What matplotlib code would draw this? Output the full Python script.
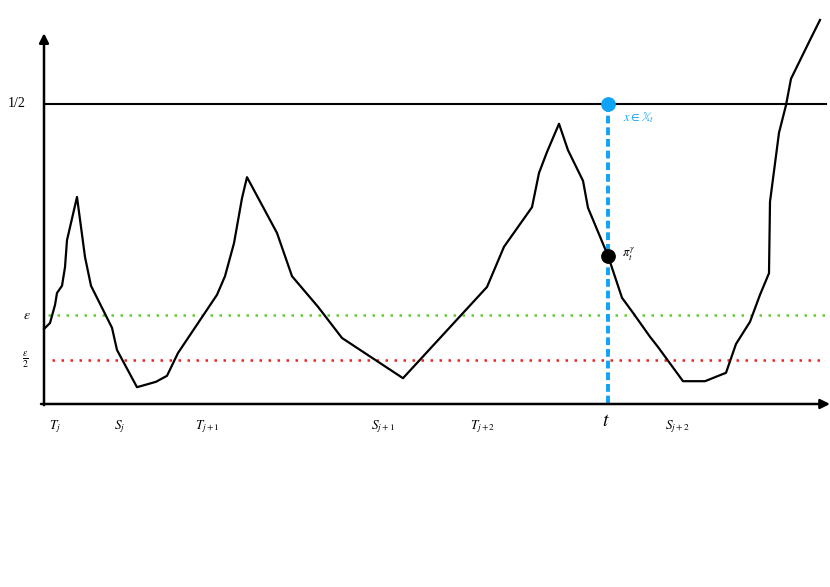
import numpy as np
import matplotlib.pyplot as plt

plt.rcParams["font.family"] = ["Liberation Serif", "DejaVu Serif"]
plt.rcParams["mathtext.fontset"] = "stix"

# sample path (time, value)
path_t = [0.00, 0.06, 0.11, 0.13, 0.18, 0.21, 0.23, 0.33, 0.41, 0.47, 0.68, 0.73,
          0.93, 1.12, 1.23, 1.34, 1.73, 1.81, 1.90, 1.98, 2.03, 2.33, 2.48, 2.74,
          2.98, 3.59, 4.43, 4.60, 4.88, 4.95, 5.03, 5.15, 5.24, 5.39, 5.44, 5.64,
          5.78, 5.89, 6.06, 6.14, 6.39, 6.61, 6.82, 6.92, 7.06, 7.16, 7.25, 7.26,
          7.35, 7.42, 7.47, 7.67, 7.76]
path_y = [0.125, 0.135, 0.165, 0.185, 0.197, 0.228, 0.273, 0.345, 0.245, 0.197, 0.127, 0.090,
          0.028, 0.037, 0.047, 0.085, 0.182, 0.213, 0.268, 0.343, 0.378, 0.285, 0.213, 0.162,
          0.110, 0.043, 0.195, 0.262, 0.328, 0.385, 0.420, 0.467, 0.423, 0.372, 0.327, 0.247,
          0.177, 0.152, 0.112, 0.095, 0.038, 0.038, 0.052, 0.100, 0.137, 0.182, 0.218, 0.337,
          0.452, 0.498, 0.542, 0.610, 0.640]

half = 0.5
eps = 0.148
t_now = 5.64
pi_now = np.interp(t_now, path_t, path_y)

time_labels = [r"$T_j$", r"$S_j$", r"$T_{j+1}$", r"$S_{j+1}$", r"$T_{j+2}$", r"$S_{j+2}$"]
time_pos = [0.11, 0.76, 1.63, 3.39, 4.39, 6.33]

BLUE = "#0fa3f7"

fig = plt.figure(figsize=(8.3, 5.87), dpi=100)
ax = fig.add_axes([0, 0, 1, 1])
ax.set_xlim(-0.44, 7.86)
ax.set_ylim(-0.305, 0.6733)
ax.axis("off")

# axes arrows
ax.annotate("", xy=(7.86, 0), xytext=(-0.03, 0),
            arrowprops=dict(arrowstyle="-|>", lw=1.8, color="k", mutation_scale=14, shrinkA=0, shrinkB=0))
ax.annotate("", xy=(0, 0.618), xytext=(0, -0.002),
            arrowprops=dict(arrowstyle="-|>", lw=1.8, color="k", mutation_scale=14, shrinkA=0, shrinkB=0))

# levels
ax.plot([0.02, 7.82], [half, half], color="k", lw=1.5)
ax.plot([0.04, 7.82], [eps, eps], color="#66cc33", lw=1.8, linestyle=(0, (1, 2.6)))
ax.plot([0.08, 7.82], [eps / 2, eps / 2], color="#ee2222", lw=1.8, linestyle=(0, (1, 2.6)))

# vertical at t
ax.plot([t_now, t_now], [half, 0.002], color=BLUE, lw=2.8, linestyle=(0, (2, 1)), zorder=2)

# path
ax.plot(path_t, path_y, color="k", lw=1.6, zorder=3)

ax.plot([t_now], [half], "o", color=BLUE, ms=9.6, zorder=4)
ax.plot([t_now], [pi_now], "o", color="k", ms=9.6, zorder=4)

ax.text(5.79, 0.477, r"$x\in\mathbb{X}_t$", color=BLUE, fontsize=9, va="center", ha="left")
ax.text(5.78, pi_now + 0.003, r"$\pi_t^\gamma$", fontsize=9, va="center", ha="left")

ax.text(-0.36, half, "1/2", fontsize=10, va="center", ha="left")
ax.text(-0.17, eps, r"$\varepsilon$", fontsize=10, va="center", ha="center")
ax.text(-0.19, eps / 2 - 0.002, r"$\frac{\varepsilon}{2}$", fontsize=10, va="center", ha="center")

for lab, pos in zip(time_labels, time_pos):
    ax.text(pos, -0.037, lab, fontsize=9.5, va="center", ha="center")
ax.text(t_now - 0.02, -0.03, r"$t$", fontsize=14, va="center", ha="center")

fig.savefig("out.png", dpi=100)
